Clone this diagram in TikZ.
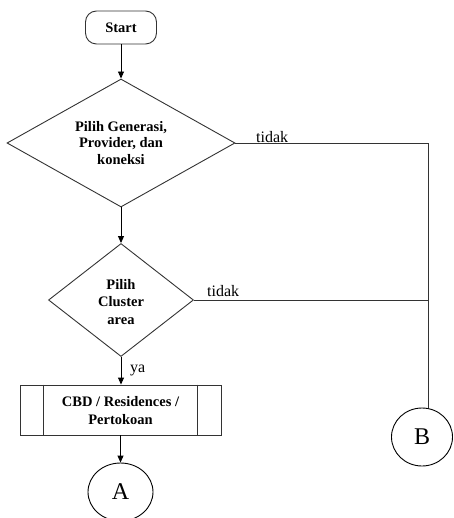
\documentclass[tikz,border=0pt]{standalone}
\usepackage{fontspec}
\setmainfont{Liberation Serif}
\usetikzlibrary{shapes.geometric,arrows.meta}
\begin{document}
\begin{tikzpicture}[x=1pt,y=-1pt,
  base/.style={draw=black!80, line width=0.9pt, inner sep=0pt},
  startbox/.style={base, rectangle, rounded corners=11pt, minimum width=71pt, minimum height=33pt, font=\fontsize{14.5}{16}\selectfont\bfseries},
  decision/.style={base, diamond},
  dtext/.style={align=center, font=\fontsize{14.5}{16.5}\selectfont\bfseries, inner sep=0pt},
  procbox/.style={base, rectangle, minimum width=201pt, minimum height=50pt},
  connector/.style={base, draw=black, ellipse, minimum width=65pt, minimum height=58pt, font=\fontsize{24}{24}\selectfont},
  flow/.style={draw=black, line width=0.9pt, -{Triangle[length=7pt,width=6pt]}},
  link/.style={draw=black!80, line width=0.9pt},
  lbl/.style={anchor=base west, inner sep=0pt, font=\fontsize{16}{16}\selectfont}
]
\useasboundingbox (0,0) rectangle (453,518);
\node[startbox] (start) at (121,27.5) {Start};
\node[decision, minimum width=228pt, minimum height=128pt] (d1) at (121,143) {};
\node[dtext] (d1t) at (121,143) {Pilih Generasi,\\Provider, dan\\koneksi};
\node[decision, minimum width=145pt, minimum height=113pt] (d2) at (121,300) {};
\node[dtext, font=\fontsize{14.5}{17.5}\selectfont\bfseries] (d2t) at (121,302) {Pilih\\Cluster\\area};
\node[procbox] (proc) at (120.5,410) {};
\node[dtext, font=\fontsize{14.5}{18}\selectfont\bfseries] (proct) at (120.5,411) {CBD / Residences /\\Pertokoan};
\node[connector] (A) at (120.5,492) {A};
\node[connector, minimum width=61pt] (B) at (422,437) {B};
\coordinate (c1) at (428,143);
\coordinate (c2) at (428,300);
\draw[base] ([xshift=24pt]proc.north west) -- ([xshift=24pt]proc.south west);
\draw[base] ([xshift=-24pt]proc.north east) -- ([xshift=-24pt]proc.south east);
\draw[flow] (start) -- (d1);
\draw[flow] (d1) -- (d2);
\draw[flow] (d2.south) -- (d2.south |- proc.north);
\draw[flow] (proc.south) -- (A.north);
\draw[link] (d1.east) -- (c1) -- (B.north -| c1);
\draw[link] (d2.east) -- (c2);
\node[lbl] (t1) at (256,143) {tidak};
\node[lbl] (t2) at (207,296) {tidak};
\node[lbl] (ya) at (130,372) {ya};
\end{tikzpicture}
\end{document}
